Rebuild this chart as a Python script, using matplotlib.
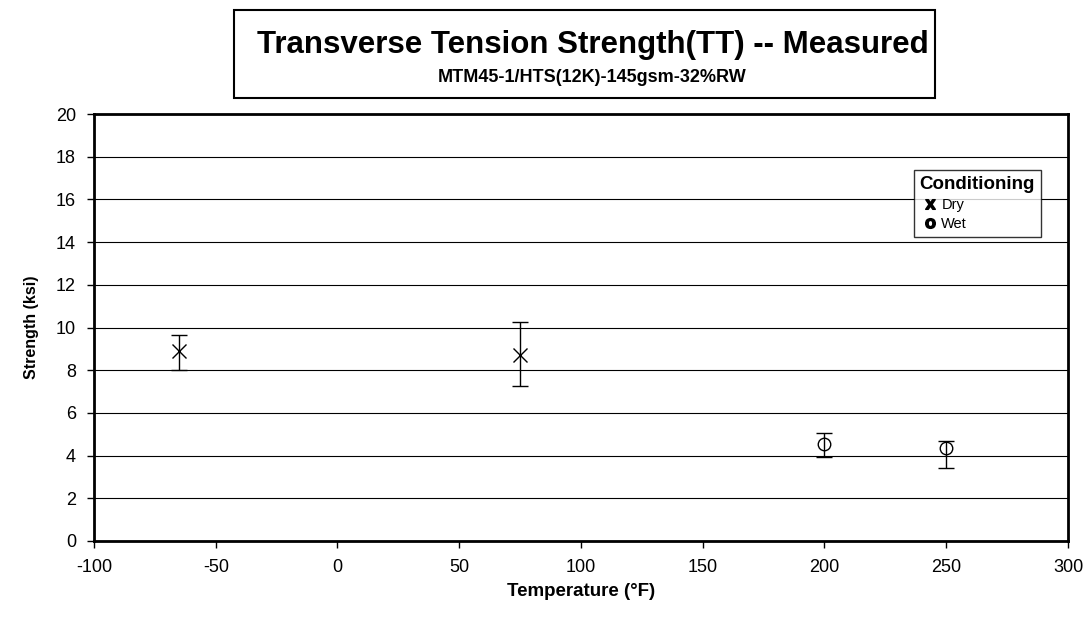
import matplotlib.pyplot as plt
from matplotlib.lines import Line2D

plt.rcParams['font.family'] = ['Liberation Sans', 'DejaVu Sans']
plt.rcParams['axes.unicode_minus'] = False

# data
dry_temp = [-65, 75]
dry_mean = [8.9, 8.7]
dry_low = [8.0, 7.25]
dry_high = [9.65, 10.25]

wet_temp = [200, 250]
wet_mean = [4.55, 4.35]
wet_low = [3.95, 3.4]
wet_high = [5.05, 4.7]

x_ticks = [-100, -50, 0, 50, 100, 150, 200, 250, 300]
y_ticks = [0, 2, 4, 6, 8, 10, 12, 14, 16, 18, 20]

fig = plt.figure(figsize=(10.88, 6.18), dpi=100)
ax = fig.add_axes([0.0864, 0.1246, 0.8952, 0.6909])

dry_err = [[m - l for m, l in zip(dry_mean, dry_low)], [h - m for m, h in zip(dry_mean, dry_high)]]
wet_err = [[m - l for m, l in zip(wet_mean, wet_low)], [h - m for m, h in zip(wet_mean, wet_high)]]

ax.errorbar(dry_temp, dry_mean, yerr=dry_err, fmt='x', color='black', ms=10, mew=1.0,
            ecolor='black', elinewidth=1.0, capsize=6, capthick=1.0, zorder=3)
ax.errorbar(wet_temp, wet_mean, yerr=wet_err, fmt='o', color='black', mfc='none', ms=9, mew=1.0,
            ecolor='black', elinewidth=1.0, capsize=6, capthick=1.0, zorder=3)

ax.set_xlim(-100, 300)
ax.set_ylim(0, 20)
ax.set_xticks(x_ticks)
ax.set_yticks(y_ticks)
ax.tick_params(labelsize=13, direction='out', length=5, width=1, pad=8)
ax.yaxis.grid(True, color='black', linewidth=0.8)
ax.set_axisbelow(True)
for s in ax.spines.values():
    s.set_linewidth(2)
    s.set_color('black')

ax.set_xlabel('Temperature (°F)', fontsize=13.5, fontweight='bold', labelpad=5)
ax.set_ylabel('Strength (ksi)', fontsize=11.5, fontweight='bold', labelpad=12)

# title box
fig.patches.append(plt.Rectangle((234 / 1088, 1 - 98 / 618), 701 / 1088, 88 / 618,
                                 transform=fig.transFigure, fill=False, edgecolor='black', linewidth=1.5))
fig.text(0.5445, 1 - 45 / 618, 'Transverse Tension Strength(TT) -- Measured', ha='center', va='center',
         fontsize=22.5, fontweight='bold')
fig.text(0.5445, 1 - 77 / 618, 'MTM45-1/HTS(12K)-145gsm-32%RW', ha='center', va='center',
         fontsize=13, fontweight='bold')

# legend
handles = [Line2D([], [], ls='none', marker=r'$\mathbf{X}$', color='black', ms=7),
           Line2D([], [], ls='none', marker=r'$\mathbf{O}$', color='black', ms=7)]
leg = ax.legend(handles, ['Dry', 'Wet'], title='Conditioning', loc='upper right',
                bbox_to_anchor=(0.9795, 0.885), fontsize=10.5, frameon=True, fancybox=False,
                handlelength=1.4, handletextpad=0.1, borderpad=0.4, labelspacing=0.35,
                alignment='left')
leg.get_title().set_fontweight('bold')
leg.get_title().set_fontsize(13.5)
leg.get_frame().set_edgecolor('black')
leg.get_frame().set_linewidth(1.0)

fig.savefig('out.png', dpi=100)
